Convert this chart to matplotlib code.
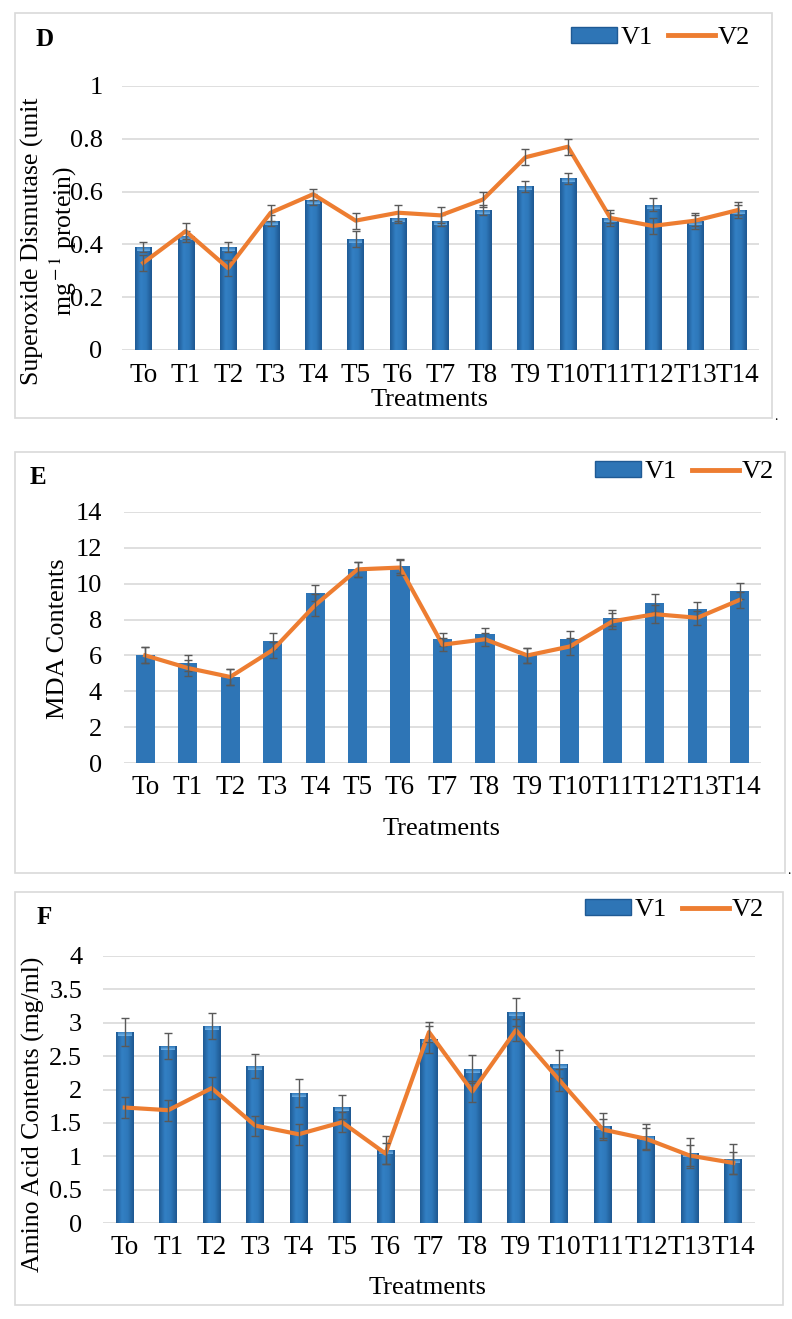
import matplotlib
matplotlib.use('Agg')
import matplotlib.pyplot as plt
import matplotlib.patches as mpatches
from matplotlib.colors import LinearSegmentedColormap
from matplotlib.lines import Line2D
import numpy as np

plt.rcParams['font.family'] = ['Liberation Serif', 'DejaVu Serif']
plt.rcParams['mathtext.fontset'] = 'stix'

# --- data ---
treatments = ['To', 'T1', 'T2', 'T3', 'T4', 'T5', 'T6', 'T7', 'T8', 'T9',
              'T10', 'T11', 'T12', 'T13', 'T14']

sod_v1 = [0.39, 0.43, 0.39, 0.49, 0.57, 0.42, 0.50, 0.49, 0.53, 0.62, 0.65, 0.50, 0.55, 0.49, 0.53]
sod_v1_err = [0.02, 0.02, 0.02, 0.02, 0.02, 0.03, 0.02, 0.02, 0.02, 0.02, 0.02, 0.02, 0.025, 0.02, 0.02]
sod_v2 = [0.33, 0.45, 0.31, 0.52, 0.59, 0.49, 0.52, 0.51, 0.57, 0.73, 0.77, 0.50, 0.47, 0.49, 0.53]
sod_v2_err = [0.03, 0.03, 0.03, 0.03, 0.02, 0.03, 0.03, 0.03, 0.03, 0.03, 0.03, 0.03, 0.03, 0.03, 0.03]
sod_ticks = [0, 0.2, 0.4, 0.6, 0.8, 1.0]
sod_ticklabels = ['0', '0.2', '0.4', '0.6', '0.8', '1']

mda_v1 = [6.0, 5.6, 4.8, 6.8, 9.5, 10.8, 11.0, 6.9, 7.2, 6.0, 6.9, 8.1, 8.9, 8.6, 9.6]
mda_v1_err = [0.45, 0.45, 0.45, 0.45, 0.45, 0.4, 0.4, 0.35, 0.35, 0.4, 0.45, 0.45, 0.5, 0.4, 0.45]
mda_v2 = [6.0, 5.3, 4.8, 6.3, 8.8, 10.8, 10.9, 6.6, 6.9, 6.0, 6.5, 7.9, 8.3, 8.1, 9.1]
mda_v2_err = [0.45, 0.45, 0.45, 0.45, 0.6, 0.4, 0.4, 0.35, 0.35, 0.4, 0.45, 0.45, 0.5, 0.4, 0.45]
mda_ticks = [0, 2, 4, 6, 8, 10, 12, 14]
mda_ticklabels = ['0', '2', '4', '6', '8', '10', '12', '14']

aa_v1 = [2.86, 2.65, 2.95, 2.35, 1.95, 1.74, 1.09, 2.75, 2.30, 3.16, 2.38, 1.46, 1.30, 1.05, 0.96]
aa_v1_err = [0.21, 0.2, 0.2, 0.18, 0.21, 0.18, 0.21, 0.2, 0.21, 0.21, 0.21, 0.19, 0.19, 0.22, 0.23]
aa_v2 = [1.73, 1.69, 2.02, 1.46, 1.33, 1.51, 1.04, 2.86, 1.97, 2.89, 2.14, 1.40, 1.26, 1.01, 0.90]
aa_v2_err = [0.16, 0.16, 0.16, 0.15, 0.16, 0.15, 0.16, 0.15, 0.16, 0.16, 0.16, 0.16, 0.16, 0.16, 0.16]
aa_ticks = [0, 0.5, 1, 1.5, 2, 2.5, 3, 3.5, 4]
aa_ticklabels = ['0', '0.5', '1', '1.5', '2', '2.5', '3', '3.5', '4']

# --- styles ---
BAR = '#2E75B6'
LINE = '#ED7D31'
GRID = '#D9D9D9'
ERR = '#595959'
W, H = 792, 1319

side_cmap = LinearSegmentedColormap.from_list('side', ['#1F5A94', '#3380C4', '#2E78BA', '#1E5790'])
top_cmap = LinearSegmentedColormap.from_list('top', ['#2E78BA', '#7DBDF0'])

fig = plt.figure(figsize=(W / 100, H / 100), dpi=100)
fig.set_facecolor('white')


def px_axes(left, right, top, bottom):
    return fig.add_axes([left / W, 1 - bottom / H, (right - left) / W, (bottom - top) / H])


def frame(x0, x1, y0, y1):
    fig.patches.append(mpatches.Rectangle((x0 / W, 1 - y1 / H), (x1 - x0) / W, (y1 - y0) / H,
                                          transform=fig.transFigure, fill=False,
                                          edgecolor=GRID, linewidth=1.2))


def shade_bars(ax, bars, top_px):
    # Excel-style bevel: darker sides, light band along the top
    y_per_px = (ax.get_ylim()[1] - ax.get_ylim()[0]) / (ax.bbox.height)
    grad = np.linspace(0, 1, 64).reshape(1, -1)
    for b in bars:
        x0, w, h = b.get_x(), b.get_width(), b.get_height()
        im = ax.imshow(grad, cmap=side_cmap, aspect='auto', extent=(x0, x0 + w, 0, h),
                       zorder=2.1, interpolation='bicubic')
        im.set_clip_path(b)
        band = top_px * y_per_px
        im2 = ax.imshow(np.linspace(0, 1, 16).reshape(-1, 1), cmap=top_cmap, aspect='auto',
                        extent=(x0 + w * 0.12, x0 + w * 0.88, h - band, h), zorder=2.2,
                        interpolation='bicubic', alpha=0.85)
        im2.set_clip_path(b)


def draw_panel(ax, v1, v1_err, v2, v2_err, ticks, ticklabels, width, shaded, ypad):
    x = np.arange(len(treatments))
    ax.set_xlim(-0.5, len(treatments) - 0.5)
    ax.set_ylim(ticks[0], ticks[-1])
    bars = ax.bar(x, v1, width=width, color=BAR, linewidth=0, zorder=2)
    if shaded:
        shade_bars(ax, bars, 4)
        ax.set_xlim(-0.5, len(treatments) - 0.5)
        ax.set_ylim(ticks[0], ticks[-1])
    ax.errorbar(x, v1, yerr=v1_err, fmt='none', ecolor=ERR, elinewidth=1, capsize=3, zorder=3)
    ax.plot(x, v2, color=LINE, linewidth=3, solid_joinstyle='round', zorder=4)
    ax.errorbar(x, v2, yerr=v2_err, fmt='none', ecolor=ERR, elinewidth=1, capsize=3, zorder=5)
    ax.set_yticks(ticks)
    ax.set_yticklabels(ticklabels)
    ax.set_xticks(x)
    ax.set_xticklabels(treatments)
    ax.tick_params(axis='x', length=0, pad=9, labelsize=19.5)
    ax.tick_params(axis='y', length=0, pad=ypad, labelsize=19)
    ax.yaxis.grid(True, color=GRID, linewidth=1.2, zorder=0)
    ax.set_axisbelow(True)
    for s in ax.spines.values():
        s.set_visible(False)
    ax.patch.set_alpha(0)


def legend(right, y):
    handles = [mpatches.Patch(facecolor=BAR, edgecolor='#1F5A94', label='V1'),
               Line2D([0], [0], color=LINE, linewidth=3.5, label='V2')]
    fig.legend(handles=handles, loc='center right', bbox_to_anchor=(right / W, 1 - y / H),
               ncol=2, frameon=False, fontsize=19, handlelength=1.75, handleheight=0.55,
               handletextpad=0.12, columnspacing=0.6, borderpad=0, borderaxespad=0)


# --- panel D ---
frame(15, 772, 13, 418)
axD = px_axes(122, 759, 86, 350)
draw_panel(axD, sod_v1, sod_v1_err, sod_v2, sod_v2_err, sod_ticks, sod_ticklabels,
           0.38, True, 14)
fig.text(35 / W, 1 - 40 / H, 'D', fontsize=18, fontweight='bold', va='center', ha='left')
fig.text(50 / W, 1 - 241 / H, 'Superoxide Dismutase (unit\nmg$^{\\rm -1}$ protein)', fontsize=18.5,
         rotation=90, ha='center', va='center', multialignment='center', linespacing=1.15)
fig.text(430 / W, 1 - 400 / H, 'Treatments', fontsize=19, ha='center', va='center')
legend(750, 38)

# --- panel E ---
frame(15, 785, 452, 873)
axE = px_axes(124, 761, 512, 763)
draw_panel(axE, mda_v1, mda_v1_err, mda_v2, mda_v2_err, mda_ticks, mda_ticklabels,
           0.45, False, 16)
fig.text(30 / W, 1 - 477 / H, 'E', fontsize=18, fontweight='bold', va='center', ha='left')
fig.text(58 / W, 1 - 639 / H, 'MDA Contents', fontsize=19, rotation=90, ha='center', va='center')
fig.text(442 / W, 1 - 829 / H, 'Treatments', fontsize=19, ha='center', va='center')
legend(774, 472)

# --- panel F ---
frame(15, 783, 892, 1305)
axF = px_axes(103, 755, 956, 1223)
draw_panel(axF, aa_v1, aa_v1_err, aa_v2, aa_v2_err, aa_ticks, aa_ticklabels,
           0.41, True, 15)
fig.text(37 / W, 1 - 917 / H, 'F', fontsize=18, fontweight='bold', va='center', ha='left')
fig.text(33 / W, 1 - 1114 / H, 'Amino Acid Contents (mg/ml)', fontsize=18.5, rotation=90,
         ha='center', va='center')
fig.text(428 / W, 1 - 1288 / H, 'Treatments', fontsize=19, ha='center', va='center')
legend(764, 910)

# small stray marks at the bottom-right of the first two frames
fig.text(776 / W, 1 - 416 / H, '.', fontsize=10, ha='center', va='center')
fig.text(789 / W, 1 - 871 / H, '.', fontsize=10, ha='center', va='center')

fig.savefig('out.png', dpi=100)
